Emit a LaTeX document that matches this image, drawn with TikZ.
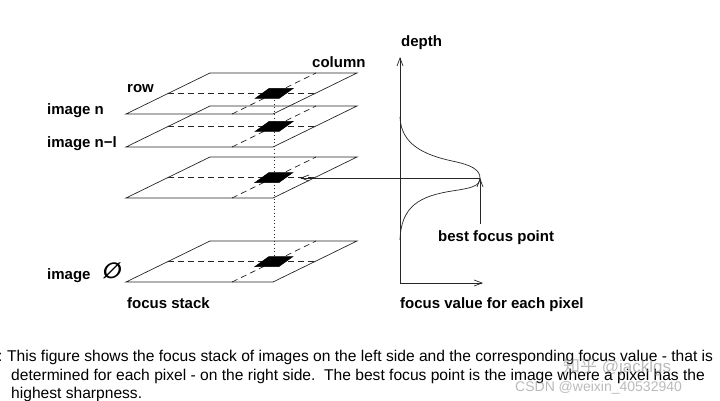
\documentclass[tikz,border=0pt]{standalone}
\usepackage{fontspec}
\setmainfont{Liberation Sans}
\newfontfamily\cjkfont{Noto Sans CJK SC}
\newfontfamily\symfont[FakeSlant=0.2]{DejaVu Sans}
\usetikzlibrary{arrows.meta}
\begin{document}
\begin{tikzpicture}[x=1pt,y=-1pt,
  planeline/.style={draw=black!85,line width=0.7pt},
  guide/.style={draw=black!85,line width=0.7pt,dash pattern=on 6pt off 4pt},
  markfill/.style={fill=black,draw=black,line width=0.5pt},
  axisline/.style={draw=black!85,line width=0.7pt},
  arr/.style={draw=black!85,line width=0.7pt,-{Straight Barb[length=8pt,width=6pt]}},
  lbl/.style={inner sep=0pt,anchor=base west,font=\fontsize{15}{18}\selectfont\bfseries},
  captext/.style={inner sep=0pt,anchor=base west,font=\fontsize{15.6}{19}\selectfont},
  wm/.style={inner sep=0pt,anchor=base west,text=black!45,opacity=0.6}
]
\useasboundingbox (0,0) rectangle (720,401);

% ---- planes of the focus stack
\foreach \t/\n in {73/p1,106/p2,157/p3,241/p4}{
  \coordinate (\n-fl) at (126,\t+41);
  \coordinate (\n-fr) at (273,\t+41);
  \coordinate (\n-br) at (357,\t);
  \coordinate (\n-bl) at (210,\t);
  \coordinate (\n-rl) at (168,\t+20.5);
  \coordinate (\n-rr) at (315,\t+20.5);
  \coordinate (\n-cf) at (232,\t+41);
  \coordinate (\n-cb) at (316,\t);
  \coordinate (\n-c) at (274,\t+20.5);
  \draw[planeline] (\n-fl) -- (\n-fr) -- (\n-br) -- (\n-bl) -- cycle;
  \draw[guide] (\n-rl) -- (\n-rr);
  \draw[guide] (\n-cf) -- (\n-cb);
}
% dotted pixel column
\draw[black!85,line width=0.8pt,dash pattern=on 1pt off 2.5pt] (p1-c) -- (p4-c);
% pixel markers
\foreach \n in {p1,p2,p3,p4}{
  \fill[markfill] ([shift={(-19,5)}]\n-c) -- ([shift={(5,5)}]\n-c) -- ([shift={(19,-5)}]\n-c) -- ([shift={(-5,-5)}]\n-c) -- cycle;
}

% ---- labels of the stack
\node[lbl] (row) at (127,93) {row};
\node[lbl] (column) at (312,68) {column};
\node[lbl] (imgn) at (47,115) {image n};
\node[lbl] (imgn1) at (47,148) {image n−l};
\node[lbl] (img0) at (47,279) {image};
\node[inner sep=0pt,anchor=center,font=\fontsize{22}{22}\selectfont\symfont\bfseries] (img0sym) at (111,271) {∅};
\node[lbl] (stack) at (127,308) {focus stack};

% ---- focus curve
\coordinate (origin) at (400,283);
\coordinate (ytop) at (400,57);
\coordinate (xend) at (483,283);
\coordinate (peak) at (480,178);
\coordinate (ctop) at (400,117);
\coordinate (cbot) at (400,240);
\coordinate (bfp) at (480,224);
\coordinate (p3tip) at (300,178);
\draw[arr] (origin) -- (ytop);
\draw[arr] (origin) -- (xend);
\draw[axisline] (ctop) .. controls (401,145) and (425,155) .. (452,161)
  .. controls (472,165) and (480,170) .. (peak);
\draw[axisline] (peak) .. controls (480,186) and (472,188) .. (452,191)
  .. controls (420,196) and (401,206) .. (cbot);
\draw[arr] (peak) -- (p3tip);
\draw[arr] (bfp) -- (peak);

\node[lbl] (depth) at (401,47) {depth};
\node[lbl] (best) at (438,241) {best focus point};
\node[lbl] (fval) at (400,308) {focus value for each pixel};

% ---- caption
\node[captext] (colon) at (-2,361) {:};
\node[captext] (cap1) at (7,361) {This figure shows the focus stack of images on the left side and the corresponding focus value - that is};
\node[captext] (cap2) at (11,380) {determined for each pixel - on the right side.\ \ The best focus point is the image where a pixel has the};
\node[captext] (cap3) at (11,398) {highest sharpness.};

% ---- watermark
\node[wm,font=\fontsize{17}{17}\selectfont] (wm1) at (563,372) {{\cjkfont 知乎} @jacklgs};
\node[wm,font=\fontsize{14}{14}\selectfont] (wm2) at (515,391) {CSDN @weixin\_40532940};
\end{tikzpicture}
\end{document}
